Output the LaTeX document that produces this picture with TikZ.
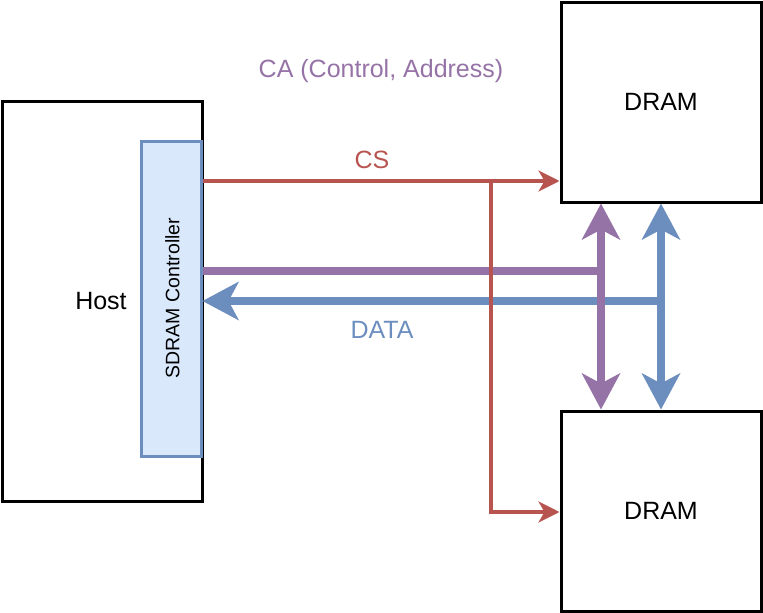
\documentclass[tikz,border=0pt]{standalone}
\usepackage{fontspec}
\setmainfont{Liberation Sans}
\usepackage{xcolor}
\usetikzlibrary{arrows.meta,positioning}

\definecolor{caPurple}{HTML}{9673A6}
\definecolor{csRed}{HTML}{B85450}
\definecolor{dqBlue}{HTML}{6C8EBF}
\definecolor{ctrlFill}{HTML}{DAE8FC}

\begin{document}
\begin{tikzpicture}[
  x=1pt, y=-1pt,
  unit/.style={draw, line width=3pt, fill=white, font=\fontsize{25}{30}\selectfont},
  ctrl/.style={draw=dqBlue, line width=3pt, fill=ctrlFill, minimum width=60pt, minimum height=315pt},
  cs/.style={csRed, line width=3.5pt, -{Stealth[length=21pt, width=21pt, inset=6pt]}},
  bus/.style={line width=7.5pt},
  bustip/.tip={Stealth[length=36pt, width=38pt, inset=10pt]},
  lbl/.style={font=\fontsize{25}{30}\selectfont}
]
\useasboundingbox (0,0) rectangle (763,613);

\node[unit, minimum width=200pt, minimum height=400pt] (host) at (102,301) {};
\node[lbl] at (101,301) {Host};
\node[ctrl] (sdram) at (171,298.5) {};
\node[rotate=90, font=\fontsize{19.5}{22}\selectfont] at (172.5,298) {SDRAM Controller};
\node[unit, minimum width=200pt, minimum height=200pt] (dramA) at (661,102) {DRAM};
\node[unit, minimum width=200pt, minimum height=200pt] (dramB) at (661,511) {DRAM};

\coordinate (dqjoin) at (661,301);
\coordinate (cajoin) at (601,271);
\coordinate (csfork) at (491,181);
\coordinate (csdown) at (491,512);

\draw[bus, dqBlue, -bustip] (dqjoin) -- (sdram.east |- dqjoin);
\draw[bus, dqBlue, bustip-bustip] (dramA.south) -- (dramB.north);
\draw[bus, caPurple] (sdram.east |- cajoin) -- (cajoin);
\draw[bus, caPurple, bustip-bustip] (dramA.south -| cajoin) -- (dramB.north -| cajoin);
\draw[cs] (sdram.east |- csfork) -- (dramA.west |- csfork);
\draw[cs] (csfork) -- (csdown) -- (dramB.west |- csdown);

\node[lbl, text=caPurple] at (381,71) {CA (Control, Address)};
\node[lbl, text=csRed] at (372,160) {CS};
\node[lbl, text=dqBlue] at (382,330) {DATA};
\end{tikzpicture}
\end{document}
